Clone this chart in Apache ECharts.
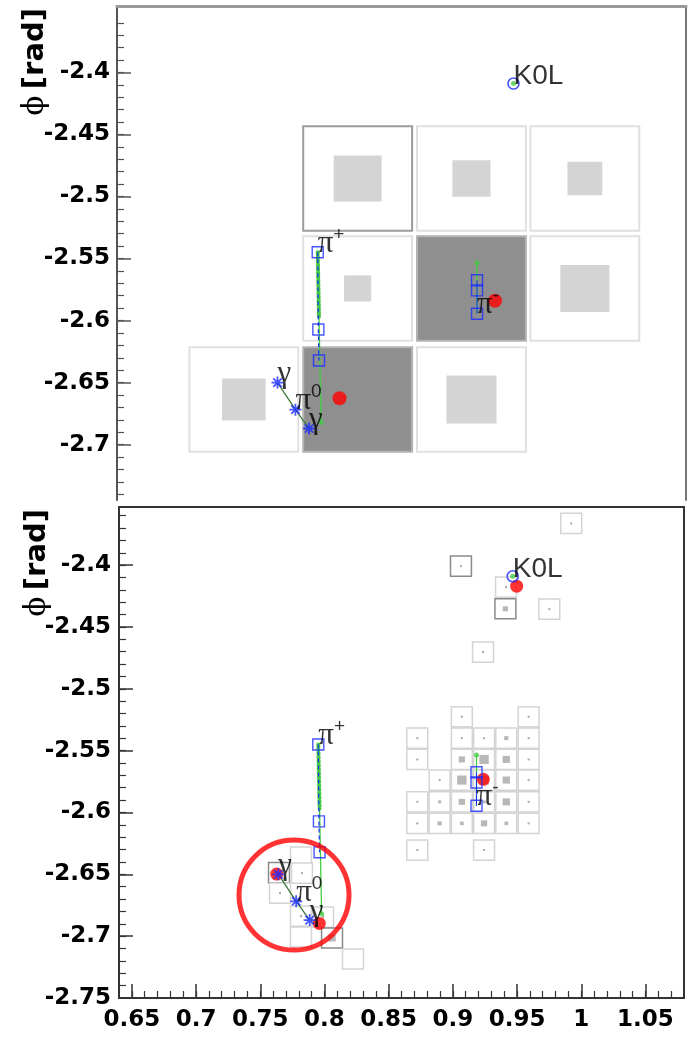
<!DOCTYPE html>
<html><head><meta charset="utf-8">
<script src="https://cdn.jsdelivr.net/npm/echarts@6/dist/echarts.min.js"></script>
<style>html,body{margin:0;padding:0;background:#fff}#c{width:692px;height:1043px}</style>
</head><body><div id="c"></div>
<script>
// ---------------- data ----------------
const xTickValues = [0.65, 0.7, 0.75, 0.8, 0.85, 0.9, 0.95, 1, 1.05];
const xMinorValues = [0.65,0.66,0.67,0.68,0.69,0.7,0.71,0.72,0.73,0.74,0.75,0.76,0.77,0.78,0.79,0.8,0.81,0.82,0.83,0.84,0.85,0.86,0.87,0.88,0.89,0.9,0.91,0.92,0.93,0.94,0.95,0.96,0.97,0.98,0.99,1,1.01,1.02,1.03,1.04,1.05,1.06,1.07];
const yTickValuesTop = [-2.7, -2.65, -2.6, -2.55, -2.5, -2.45, -2.4];
const yTickValuesBottom = [-2.75, -2.7, -2.65, -2.6, -2.55, -2.5, -2.45, -2.4];
const yMinorValues = [-2.74,-2.73,-2.72,-2.71,-2.7,-2.69,-2.68,-2.67,-2.66,-2.65,-2.64,-2.63,-2.62,-2.61,-2.6,-2.59,-2.58,-2.57,-2.56,-2.55,-2.54,-2.53,-2.52,-2.51,-2.5,-2.49,-2.48,-2.47,-2.46,-2.45,-2.44,-2.43,-2.42,-2.41,-2.4,-2.39,-2.38,-2.37,-2.36];

// HCAL cells (top panel): eta, phi, relative energy (1 = saturated/full), linked flag
const hcalEta    = [0.8261, 0.9141, 1.0018, 0.8261, 0.9141, 1.0018, 0.7381, 0.8261, 0.9141];
const hcalPhi    = [-2.4855, -2.4855, -2.4855, -2.5741, -2.5741, -2.5741, -2.6636, -2.6636, -2.6636];
const hcalEnergy = [0.44, 0.35, 0.32, 0.25, 1.0, 0.45, 0.40, 1.0, 0.46];
const hcalLinked = [1, 0, 0, 0, 0, 0, 0, 0, 0];

// ECAL cells (bottom panel)
const ecalEta = [
  0.9070, 0.9590,
  0.8723, 0.9070, 0.9243, 0.9416, 0.9590,
  0.8723, 0.9070, 0.9243, 0.9416, 0.9590,
  0.8897, 0.9070, 0.9243, 0.9416, 0.9590,
  0.8723, 0.8897, 0.9070, 0.9243, 0.9416, 0.9590,
  0.8723, 0.8897, 0.9070, 0.9243, 0.9416, 0.9590,
  0.8723, 0.9243,
  0.9922, 0.9063, 0.9414, 0.9409, 0.9751, 0.9235,
  0.7646, 0.7654, 0.7817, 0.7825, 0.7817, 0.7989, 0.7817, 0.8059, 0.8222
];
const ecalPhi = [
  -2.5226, -2.5226,
  -2.5399, -2.5399, -2.5399, -2.5399, -2.5399,
  -2.5571, -2.5571, -2.5571, -2.5571, -2.5571,
  -2.5738, -2.5738, -2.5738, -2.5738, -2.5738,
  -2.5914, -2.5914, -2.5914, -2.5914, -2.5914, -2.5914,
  -2.6088, -2.6088, -2.6088, -2.6088, -2.6088, -2.6088,
  -2.6304, -2.6304,
  -2.3663, -2.4008, -2.4178, -2.4353, -2.4356, -2.4703,
  -2.6486, -2.6652, -2.6360, -2.6490, -2.6838, -2.6846, -2.7007, -2.7015, -2.7185
];
const ecalEnergy = [
  0.06, 0.06,
  0.06, 0.08, 0.08, 0.20, 0.06,
  0.06, 0.30, 0.45, 0.35, 0.06,
  0.08, 0.45, 0.45, 0.35, 0.06,
  0.06, 0.15, 0.30, 0.15, 0.35, 0.06,
  0.06, 0.20, 0.18, 0.30, 0.18, 0.06,
  0.06, 0.06,
  0.06, 0.06, 0.06, 0.25, 0.06, 0.06,
  0.06, 0.06, 0.0, 0.06, 0.06, 0.06, 0.0, 0.35, 0.0
];
const ecalLinked = [
  0,0, 0,0,0,0,0, 0,0,0,0,0, 0,0,0,0,0, 0,0,0,0,0,0, 0,0,0,0,0,0, 0,0,
  0,1,0,1,0,0,
  1,0,0,0,0,0,0,1,0
];

// reconstructed tracks / particles
const piPlusEta = [0.7952, 0.7957, 0.7962];
const piPlusPhi = [-2.5450, -2.6072, -2.6322];
const piPlusSimEta = [0.7952, 0.7962, 0.7978];
const piPlusSimPhi = [-2.5450, -2.5968, -2.6820];
const pi0Eta = [0.7641, 0.7780, 0.7885];   // gamma, pi0, gamma
const pi0Phi = [-2.6500, -2.6718, -2.6870];
const piMinusEta = [0.9184, 0.9184, 0.9184];
const piMinusPhi = [-2.5675, -2.5757, -2.5945];
const piMinusSimEta = [0.9184, 0.9184];
const piMinusSimPhi = [-2.5535, -2.5945];
const k0lEta = [0.9466];
const k0lPhi = [-2.4090];
const simDotEta = [0.7978, 0.9184, 0.9466];
const simDotPhi = [-2.6820, -2.5535, -2.4090];
const clusterTopEta = [0.8121, 0.9323];
const clusterTopPhi = [-2.6626, -2.5840];
const clusterBottomEta = [0.7628, 0.7960, 0.9237, 0.9497];
const clusterBottomPhi = [-2.6498, -2.6897, -2.5732, -2.4170];
const ringEta = [0.7763];
const ringPhi = [-2.6668];
// particle labels, attached to points
const labelText = ['{g|π}{s|+}', '{g|γ}', '{g|π}{s|0}', '{g|γ}', '{g|π}{s|-}', '{k|K0L}'];
const labelEta = [0.7952, 0.7641, 0.7780, 0.7885, 0.9184, 0.9466];
const labelPhi = [-2.5450, -2.6500, -2.6718, -2.6870, -2.5945, -2.4090];

// ---------------- chart ----------------
const zip = (a, b) => a.map((v, i) => [v, b[i]]);
const fmt = v => String(Number(v.toFixed(2)));
const BLUE = '#1a2cff', GREEN = '#44cc44', RED = '#ff0000';
const STAR = 'path://M5,0L5,10M0,5L10,5M1.5,1.5L8.5,8.5M1.5,8.5L8.5,1.5';

function cellSeries(xi, yi, eta, phi, en, linked, size, opt) {
  return {
    type: 'custom', xAxisIndex: xi, yAxisIndex: yi, z: 1, silent: true,
    data: eta.map((v, i) => [v, phi[i], en[i], linked[i]]),
    renderItem: function (params, api) {
      const c = api.coord([api.value(0), api.value(1)]);
      const s = api.size([size, size]);
      const f = api.value(2), l = api.value(3);
      const w = s[0], h = s[1];
      const full = f >= 1;
      const ch = [{
        type: 'rect',
        shape: { x: c[0] - w / 2, y: c[1] - h / 2, width: w, height: h },
        style: { fill: full ? opt.dark : '#ffffff', stroke: l ? opt.linkStroke : (full ? opt.darkStroke : opt.stroke), lineWidth: opt.lw }
      }];
      if (!full && f > 0) {
        const iw = Math.max(w * f, 2), ih = Math.max(h * f, 2);
        ch.push({ type: 'rect', shape: { x: c[0] - iw / 2, y: c[1] - ih / 2, width: iw, height: ih },
          style: { fill: f < 0.1 ? opt.dot : opt.inner } });
      }
      return { type: 'group', children: ch };
    }
  };
}

function eventSeries(xi, yi, clEta, clPhi, clSize) {
  const base = { xAxisIndex: xi, yAxisIndex: yi, silent: true, animation: false };
  return [
    Object.assign({ type: 'line', data: zip(piPlusSimEta.slice(0, 2), piPlusSimPhi.slice(0, 2)), symbol: 'none', z: 3,
      lineStyle: { color: GREEN, width: 4, type: [2, 2], cap: 'round' } }, base),
    Object.assign({ type: 'line', data: zip(piPlusSimEta.slice(1), piPlusSimPhi.slice(1)), symbol: 'none', z: 3,
      lineStyle: { color: GREEN, width: 1.3 } }, base),
    Object.assign({ type: 'line', data: zip(piPlusEta, piPlusPhi), symbol: 'none', z: 4,
      lineStyle: { color: BLUE, width: 1.2, type: [4, 3] } }, base),
    Object.assign({ type: 'line', data: zip(piMinusSimEta, piMinusSimPhi), symbol: 'none', z: 3,
      lineStyle: { color: GREEN, width: 1.3 } }, base),
    Object.assign({ type: 'line', data: zip(piMinusEta, piMinusPhi), symbol: 'none', z: 4,
      lineStyle: { color: BLUE, width: 1 } }, base),
    Object.assign({ type: 'line', data: zip(pi0Eta, pi0Phi), symbol: 'none', z: 3,
      lineStyle: { color: '#3d7a3d', width: 1.3 } }, base),
    Object.assign({ type: 'scatter', data: zip(simDotEta, simDotPhi), symbol: 'circle', symbolSize: 5, z: 4,
      itemStyle: { color: GREEN } }, base),
    Object.assign({ type: 'scatter', data: zip(clEta, clPhi), symbol: 'circle', symbolSize: clSize, z: 5,
      itemStyle: { color: RED } }, base),
    Object.assign({ type: 'scatter', data: zip(piPlusEta, piPlusPhi).concat(zip(piMinusEta, piMinusPhi)), symbol: 'rect', symbolSize: 11, z: 6,
      itemStyle: { color: 'rgba(0,0,0,0)', borderColor: BLUE, borderWidth: 1.4 } }, base),
    Object.assign({ type: 'scatter', data: zip(pi0Eta, pi0Phi), symbol: STAR, symbolSize: 12, z: 6,
      itemStyle: { color: 'rgba(0,0,0,0)', borderColor: BLUE, borderWidth: 1.8 } }, base),
    Object.assign({ type: 'scatter', data: zip(k0lEta, k0lPhi), symbol: 'circle', symbolSize: 11, z: 6,
      itemStyle: { color: 'rgba(0,0,0,0)', borderColor: BLUE, borderWidth: 1.6 } }, base),
    Object.assign({ type: 'scatter', symbol: 'circle', symbolSize: 1, z: 8,
      itemStyle: { color: 'rgba(0,0,0,0)' },
      data: labelEta.map((v, i) => ({ value: [v, labelPhi[i]], txt: labelText[i] })),
      label: { show: true, position: 'inside', align: 'left', verticalAlign: 'bottom', offset: [0, 7],
        formatter: p => p.data.txt,
        rich: {
          g: { fontFamily: 'Liberation Serif', fontSize: 31, color: '#000', lineHeight: 34, verticalAlign: 'bottom' },
          s: { fontFamily: 'Liberation Sans', fontSize: 19, color: '#000', lineHeight: 34, verticalAlign: 'top' },
          k: { fontFamily: 'Liberation Sans', fontSize: 28, color: '#000', lineHeight: 34, verticalAlign: 'bottom' }
        } } }, base)
  ];
}

const labelFont = { fontFamily: 'DejaVu Sans', fontWeight: 'bold', fontSize: 23, color: '#000' };
const AX = '#333';
const titleRich = {
  p: { fontFamily: 'DejaVu Serif', fontSize: 29, fill: '#000' },
  r: { fontFamily: 'DejaVu Sans', fontWeight: 'bold', fontSize: 29, fill: '#000' }
};

const option = {
  animation: false,
  backgroundColor: '#ffffff',
  grid: [
    { left: 117, top: 6, width: 569, height: 494, containLabel: false },
    { left: 119, top: 507, width: 565, height: 491, containLabel: false }
  ],
  xAxis: [
    { gridIndex: 0, type: 'value', min: 0.64, max: 1.08, position: 'top',
      axisLine: { show: true, onZero: false, lineStyle: { color: '#9a9a9a', width: 3 } },
      axisTick: { show: false }, axisLabel: { show: false }, splitLine: { show: false } },
    { gridIndex: 1, type: 'value', min: 0.64, max: 1.08, position: 'bottom',
      axisLine: { show: true, onZero: false, lineStyle: { color: AX, width: 2 } },
      axisTick: { show: true, inside: true, length: 14, customValues: xTickValues, lineStyle: { color: AX, width: 1.5 } },
      axisLabel: Object.assign({ show: true, margin: 11, customValues: xTickValues, formatter: fmt }, labelFont),
      splitLine: { show: false } },
    { gridIndex: 1, type: 'value', min: 0.64, max: 1.08, position: 'bottom',
      axisLine: { show: false, onZero: false },
      axisTick: { show: true, inside: true, length: 7, customValues: xMinorValues, lineStyle: { color: AX, width: 1.2 } },
      axisLabel: { show: false }, splitLine: { show: false } },
    { gridIndex: 1, type: 'value', min: 0.64, max: 1.08, position: 'top',
      axisLine: { show: true, onZero: false, lineStyle: { color: AX, width: 2 } },
      axisTick: { show: false }, axisLabel: { show: false }, splitLine: { show: false } }
  ],
  yAxis: [
    { gridIndex: 0, type: 'value', min: -2.7446, max: -2.3465, position: 'left',
      axisLine: { show: true, onZero: false, lineStyle: { color: '#555', width: 2 } },
      axisTick: { show: true, inside: true, length: 14, customValues: yTickValuesTop, lineStyle: { color: '#555', width: 1.5 } },
      axisLabel: Object.assign({ show: true, margin: 7, customValues: yTickValuesTop, formatter: fmt }, labelFont),
      splitLine: { show: false } },
    { gridIndex: 0, type: 'value', min: -2.7446, max: -2.3465, position: 'left',
      axisLine: { show: false, onZero: false },
      axisTick: { show: true, inside: true, length: 7, customValues: yMinorValues, lineStyle: { color: '#555', width: 1.2 } },
      axisLabel: { show: false }, splitLine: { show: false } },
    { gridIndex: 0, type: 'value', min: -2.7446, max: -2.3465, position: 'right',
      axisLine: { show: true, onZero: false, lineStyle: { color: '#777', width: 2 } },
      axisTick: { show: false }, axisLabel: { show: false }, splitLine: { show: false } },
    { gridIndex: 1, type: 'value', min: -2.75, max: -2.353, position: 'left',
      axisLine: { show: true, onZero: false, lineStyle: { color: AX, width: 2 } },
      axisTick: { show: true, inside: true, length: 14, customValues: yTickValuesBottom, lineStyle: { color: AX, width: 1.5 } },
      axisLabel: Object.assign({ show: true, margin: 8, customValues: yTickValuesBottom, formatter: fmt }, labelFont),
      splitLine: { show: false } },
    { gridIndex: 1, type: 'value', min: -2.75, max: -2.353, position: 'left',
      axisLine: { show: false, onZero: false },
      axisTick: { show: true, inside: true, length: 7, customValues: yMinorValues, lineStyle: { color: AX, width: 1.2 } },
      axisLabel: { show: false }, splitLine: { show: false } },
    { gridIndex: 1, type: 'value', min: -2.75, max: -2.353, position: 'right',
      axisLine: { show: true, onZero: false, lineStyle: { color: AX, width: 2 } },
      axisTick: { show: false }, axisLabel: { show: false }, splitLine: { show: false } }
  ],
  graphic: [
    { type: 'text', x: 35, y: 8, rotation: Math.PI / 2, silent: true,
      style: { text: '{p|ϕ}  {r|[rad]}', align: 'right', verticalAlign: 'middle', rich: titleRich } },
    { type: 'text', x: 37, y: 509, rotation: Math.PI / 2, silent: true,
      style: { text: '{p|ϕ}  {r|[rad]}', align: 'right', verticalAlign: 'middle', rich: titleRich } }
  ],
  series: [].concat(
    [cellSeries(0, 0, hcalEta, hcalPhi, hcalEnergy, hcalLinked, 0.0842,
      { dark: '#8f8f8f', darkStroke: '#b3b3b3', stroke: '#e0e0e0', linkStroke: '#9c9c9c', inner: '#d4d4d4', dot: '#bbbbbb', lw: 2 })],
    eventSeries(0, 0, clusterTopEta, clusterTopPhi, 14),
    [cellSeries(1, 3, ecalEta, ecalPhi, ecalEnergy, ecalLinked, 0.0163,
      { dark: '#8f8f8f', darkStroke: '#b3b3b3', stroke: '#d4d4d4', linkStroke: '#8a8a8a', inner: '#b8b8b8', dot: '#a8a8a8', lw: 1.5 })],
    eventSeries(1, 3, clusterBottomEta, clusterBottomPhi, 13),
    [{ type: 'scatter', xAxisIndex: 1, yAxisIndex: 3, silent: true, z: 9, data: zip(ringEta, ringPhi),
      symbol: 'circle', symbolSize: 110, itemStyle: { color: 'rgba(0,0,0,0)', borderColor: RED, borderWidth: 5 } }]
  )
};

const chart = echarts.init(document.getElementById('c'), null, { renderer: 'canvas', width: 692, height: 1043 });
chart.setOption(option);
</script>
</body></html>
